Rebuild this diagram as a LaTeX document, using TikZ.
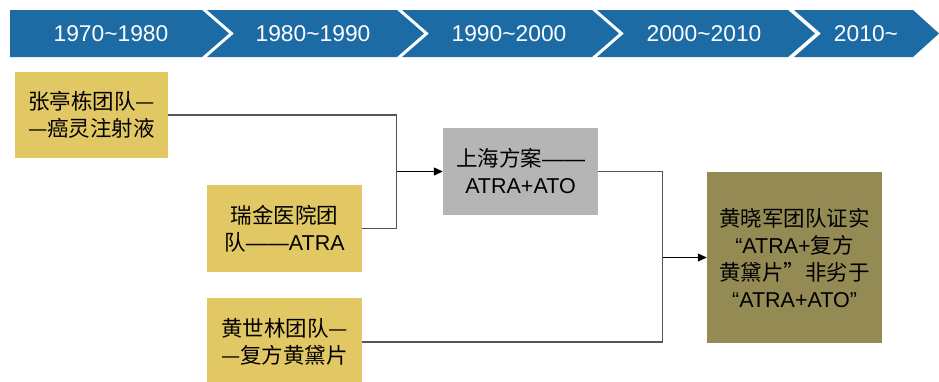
\documentclass[tikz,border=0pt]{standalone}
\usepackage{fontspec}
\setmainfont{Liberation Sans}
\newfontfamily\cjk{Noto Sans CJK SC}
\usetikzlibrary{arrows.meta,calc}
\definecolor{bannerblue}{RGB}{28,107,165}
\definecolor{goldbox}{RGB}{226,200,100}
\definecolor{graybox}{RGB}{181,181,181}
\definecolor{olivebox}{RGB}{148,138,84}
\definecolor{linegray}{RGB}{85,85,85}
\begin{document}
\begin{tikzpicture}[x=1pt,y=-1pt,
  box/.style={draw=none, inner sep=0pt, align=center, font=\fontsize{21.5}{27}\selectfont},
  conn/.style={draw=linegray, line width=1.2pt},
  arr/.style={conn, -{Triangle[length=9pt,width=8pt]}, black},
  chev/.style={fill=bannerblue},
  yeartext/.style={text=white, inner sep=0pt, font=\fontsize{22.8}{27}\selectfont}]
\useasboundingbox (0,0) rectangle (939,381);
% banner
\fill[chev] (10,10) -- (202,10) -- (229,33.5) -- (202,57) -- (10,57) -- cycle;
\fill[chev] (207,10) -- (397,10) -- (424,33.5) -- (397,57) -- (207,57) -- (234,33.5) -- cycle;
\fill[chev] (402,10) -- (592,10) -- (619,33.5) -- (592,57) -- (402,57) -- (429,33.5) -- cycle;
\fill[chev] (597,10) -- (788,10) -- (815,33.5) -- (788,57) -- (597,57) -- (624,33.5) -- cycle;
\fill[chev] (794,10) -- (913,10) -- (939,33.5) -- (913,57) -- (794,57) -- (821,33.5) -- cycle;
\node[yeartext] (y1) at (111,34) {1970\textasciitilde1980};
\node[yeartext] (y2) at (313,34) {1980\textasciitilde1990};
\node[yeartext] (y3) at (509,34) {1990\textasciitilde2000};
\node[yeartext] (y4) at (704,34) {2000\textasciitilde2010};
\node[yeartext] (y5) at (866,34) {2010\textasciitilde};
% boxes
\node[box, fill=goldbox, minimum width=153pt, minimum height=86pt] (A) at (91.5,115)
  {{\cjk 张亭栋团队—}\\{\cjk —癌灵注射液}};
\node[box, fill=goldbox, minimum width=155pt, minimum height=87pt] (B) at (284.5,228.5)
  {{\cjk 瑞金医院团}\\{\cjk 队}——ATRA};
\node[box, fill=goldbox, minimum width=155pt, minimum height=88pt] (C) at (284.5,342)
  {{\cjk 黄世林团队—}\\{\cjk —复方黄黛片}};
\node[box, fill=graybox, minimum width=155pt, minimum height=87pt] (D) at (520.5,171.5)
  {{\cjk 上海方案}——\\ATRA+ATO};
\node[box, fill=olivebox, minimum width=175pt, minimum height=171pt] (E) at (794.5,257.5)
  {{\cjk 黄晓军团队证实}\\“ATRA+{\cjk 复方}\\{\cjk 黄黛片”非劣于}\\“ATRA+ATO”};
% connectors
\coordinate (j1) at ($(D.west)+(-46,0)$);
\coordinate (j2) at ($(E.west)+(-44,0)$);
\draw[conn] (A.east) -| (j1);
\draw[conn] (B.east) -| (j1);
\draw[arr] (j1) -- (D.west);
\draw[conn] (D.east) -| (j2);
\draw[conn] (C.east) -| (j2);
\draw[arr] (j2) -- (E.west);
\end{tikzpicture}
\end{document}
